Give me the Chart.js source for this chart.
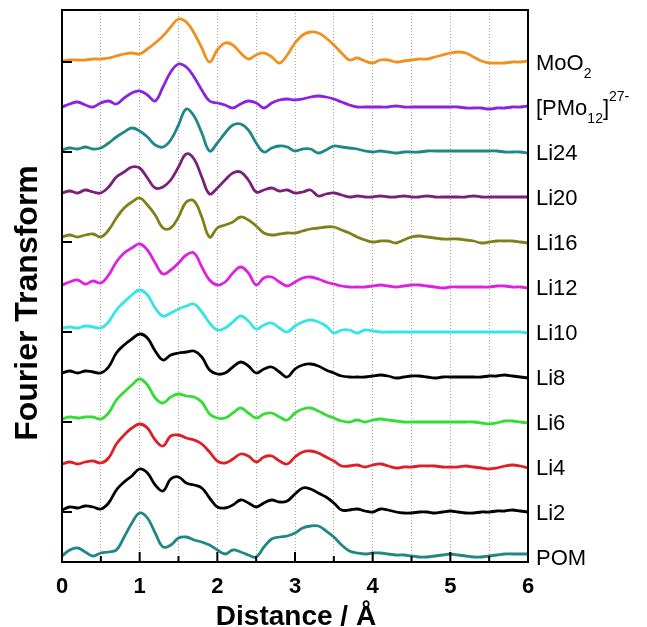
<!DOCTYPE html>
<html>
<head>
<meta charset="utf-8">
<script src="https://cdn.jsdelivr.net/npm/chart.js@4.4.0/dist/chart.umd.min.js"></script>
<style>
  html, body { margin: 0; padding: 0; background: #fff; }
</style>
</head>
<body>
<canvas id="ftChart" width="647" height="627"></canvas>
<script>
// R axis (Angstrom), shared by all curves
const distance = [0, 0.1, 0.2, 0.3, 0.4, 0.5, 0.6, 0.7, 0.8, 0.9, 1.0,
  1.1, 1.2, 1.3, 1.4, 1.5, 1.6, 1.7, 1.8, 1.9, 2.0,
  2.1, 2.2, 2.3, 2.4, 2.5, 2.6, 2.7, 2.8, 2.9, 3.0,
  3.1, 3.2, 3.3, 3.4, 3.5, 3.6, 3.7, 3.8, 3.9, 4.0,
  4.1, 4.2, 4.3, 4.4, 4.5, 4.6, 4.7, 4.8, 4.9, 5.0,
  5.1, 5.2, 5.3, 5.4, 5.5, 5.6, 5.7, 5.8, 5.9, 6.0];

// FT magnitude of each sample (arbitrary units, above its own baseline)
const pom  = [1,7,9,5,1,4,5,7,20,34,44, 39,24,10,12,19,20,17,15,12,7, 3,7,5,2,0,10,18,20,21,24, 29,31,31,26,20,12,6,4,3,4, 4,3,2,2,1,0,0,1,2,3, 2,1,0,0,1,2,3,3,3,3];
const li2  = [2,5,4,6,5,3,9,22,30,36,43, 39,27,21,33,35,29,27,24,14,5, 4,7,12,9,5,9,12,10,11,18, 24,23,19,15,9,2,2,3,1,0, 3,2,0,-1,-1,0,0,-1,0,1, 0,-1,-1,0,0,1,1,2,1,0];
const li4  = [3,5,3,5,6,4,9,23,32,39,43, 39,27,21,31,32,29,27,23,15,6, 4,8,13,11,5,10,11,6,3,10, 15,16,14,10,6,1,1,2,0,2, 3,1,-1,0,0,1,1,1,0,0, 0,1,0,-1,-2,-1,1,2,1,-1];
const li6  = [3,5,4,5,5,3,9,22,30,37,43, 37,24,19,25,28,26,25,20,8,4, 4,9,14,9,4,8,9,5,2,9, 13,14,11,7,4,1,0,2,0,2, 3,2,1,0,0,0,0,0,0,0, 0,0,0,-1,-2,-1,1,1,0,-1];
const li8  = [4,6,4,6,5,4,10,24,32,38,43, 39,26,17,22,24,25,26,20,7,3, 4,10,15,11,4,8,10,5,0,8, 12,13,11,7,4,1,0,0,0,1, 2,1,-1,0,1,1,0,-1,0,0, 0,0,0,0,1,1,2,1,0,-1];
const li10 = [4,5,4,6,5,4,10,22,30,37,42, 37,24,16,19,23,26,28,20,9,2, 4,10,16,11,3,7,9,4,0,6, 10,12,10,6,-1,2,2,-1,2,1, 0,0,0,0,0,0,0,0,0,0, 0,0,0,0,0,0,0,0,0,-1];
const li12 = [2,5,7,3,6,4,12,25,34,39,43, 37,24,13,17,24,32,34,20,7,2, 5,14,20,14,2,9,10,5,1,5, 9,10,8,5,3,1,0,0,0,1, 2,1,0,1,2,2,1,0,-1,0, 0,0,0,0,0,1,1,0,0,-1];
const li16 = [5,7,5,7,8,5,12,24,34,40,44, 37,27,14,14,25,40,41,25,5,14, 17,20,25,22,16,9,7,8,9,9, 11,13,14,15,15,12,9,5,2,0, 1,1,-1,2,5,6,5,4,3,3, 3,2,1,-1,0,1,1,1,0,-1];
const li20 = [4,6,4,7,5,4,10,20,25,30,29, 19,9,10,17,30,43,38,20,3,9, 17,24,25,17,5,7,9,6,7,4, 5,7,1,3,4,2,0,1,0,0, 1,0,0,1,0,0,1,0,0,0, 0,0,1,0,0,0,0,0,0,0];
const li24 = [2,4,3,5,3,4,9,15,20,24,21, 15,7,5,12,27,43,36,19,1,9, 19,27,28,22,9,0,4,6,5,1, 3,3,-1,2,6,5,4,3,1,0, 1,0,-1,0,0,0,1,1,1,1, 1,1,1,1,1,1,0,0,0,-1];
const pmo  = [0,3,5,2,0,4,6,3,9,14,16, 12,6,20,35,43,40,30,17,6,4, 2,-1,3,6,4,-1,4,7,8,7, 8,10,11,10,8,5,2,0,0,0, 0,0,1,0,0,0,0,0,0,0, 0,-1,-1,-1,-2,-1,-1,0,0,1];
const moo2 = [1,2,2,2,3,3,4,6,8,9,8, 13,19,26,35,43,40,29,14,0,12, 19,17,9,3,7,9,5,-1,7,19, 27,30,29,24,17,9,2,4,1,-1, 2,2,0,1,2,3,3,5,7,9, 10,9,5,1,-1,-1,-1,0,0,1];

// bottom to top
const seriesNames = ["POM", "Li2", "Li4", "Li6", "Li8", "Li10", "Li12", "Li16", "Li20", "Li24", "[PMo_{12}]^{27-}", "MoO_{2}"];
const seriesData = [pom, li2, li4, li6, li8, li10, li12, li16, li20, li24, pmo, moo2];
const seriesColors = ["#1f8787", "#000000", "#dd1f26", "#33dd33", "#000000", "#33e5e5",
  "#e020e0", "#80801a", "#7a1f7a", "#1f8787", "#8a22e0", "#f0901e"];
const offsets = [0, 45, 90, 135, 180, 225, 270, 315, 360, 405, 450, 495];
const yTicks = [45, 135, 225, 315, 405, 495];

const datasets = seriesData.map((vals, i) => ({
    label: seriesNames[i],
    data: distance.map((d, k) => ({ x: d, y: offsets[i] + vals[k] })),
    borderColor: seriesColors[i],
    borderWidth: 2.8,
    pointRadius: 0,
    tension: 0.4,
    fill: false
}));

// draws "MoO_{2}" style text with sub/superscripts
const drawRichLabel = (ctx, text, x, y) => {
    const parts = text.split(/([_^]\{[^}]*\})/).filter(p => p !== "");
    let cx = x;
    parts.forEach(p => {
        if (p[0] === "_" || p[0] === "^") {
            const t = p.slice(2, -1);
            ctx.font = "14px 'Liberation Sans', Arial, sans-serif";
            ctx.fillText(t, cx, p[0] === "_" ? y + 10 : y - 12);
            cx += ctx.measureText(t).width;
        } else {
            ctx.font = "22px 'Liberation Sans', Arial, sans-serif";
            ctx.fillText(p, cx, y);
            cx += ctx.measureText(p).width;
        }
    });
};

const framePlugin = {
    id: "framePlugin",
    afterDraw(chart) {
        const { ctx, chartArea: a, scales: { x, y } } = chart;
        ctx.save();
        ctx.strokeStyle = "#000";
        ctx.lineWidth = 2;
        ctx.strokeRect(a.left, a.top, a.right - a.left, a.bottom - a.top);
        ctx.beginPath();
        x.ticks.forEach(t => {
            const px = x.getPixelForValue(t.value);
            const len = Number.isInteger(t.value) ? 10 : 6;
            ctx.moveTo(px, a.bottom);
            ctx.lineTo(px, a.bottom - len);
        });
        yTicks.forEach(v => {
            const py = y.getPixelForValue(v);
            ctx.moveTo(a.left, py);
            ctx.lineTo(a.left + 10, py);
        });
        ctx.stroke();

        ctx.fillStyle = "#000";
        ctx.textBaseline = "middle";
        ctx.textAlign = "left";
        seriesNames.forEach((name, i) => {
            drawRichLabel(ctx, name, a.right + 8, y.getPixelForValue(offsets[i]) + 2);
        });

        ctx.font = "bold 28px 'Liberation Sans', Arial, sans-serif";
        ctx.textAlign = "center";
        ctx.textBaseline = "alphabetic";
        ctx.fillText("Distance / Å", (a.left + a.right) / 2 + 1, a.bottom + 63);

        ctx.translate(28, (a.top + a.bottom) / 2 + 17);
        ctx.rotate(-Math.PI / 2);
        ctx.textBaseline = "middle";
        ctx.font = "bold 32px 'Liberation Sans', Arial, sans-serif";
        ctx.fillText("Fourier Transform", 0, 0);
        ctx.restore();
    }
};

new Chart(document.getElementById("ftChart"), {
    type: "line",
    data: { datasets },
    options: {
        responsive: false,
        animation: false,
        layout: { padding: { top: 10, right: 119, left: 0, bottom: 0 } },
        plugins: { legend: { display: false }, tooltip: { enabled: false } },
        scales: {
            x: {
                type: "linear",
                min: 0,
                max: 6,
                afterFit: s => { s.height = 65; },
                ticks: {
                    stepSize: 0.5,
                    autoSkip: false,
                    maxRotation: 0,
                    padding: 12,
                    color: "#000",
                    font: { family: "'Liberation Sans', Arial, sans-serif", size: 22, weight: "bold" },
                    callback: v => Number.isInteger(v) ? String(v) : ""
                },
                grid: { color: "#a8a8a8", lineWidth: 1, drawTicks: false },
                border: { display: false, dash: [1, 2] }
            },
            y: {
                type: "linear",
                min: -5,
                max: 547,
                afterFit: s => { s.width = 62; },
                ticks: { display: false },
                grid: { display: false },
                border: { display: false }
            }
        }
    },
    plugins: [framePlugin]
});
</script>
</body>
</html>
